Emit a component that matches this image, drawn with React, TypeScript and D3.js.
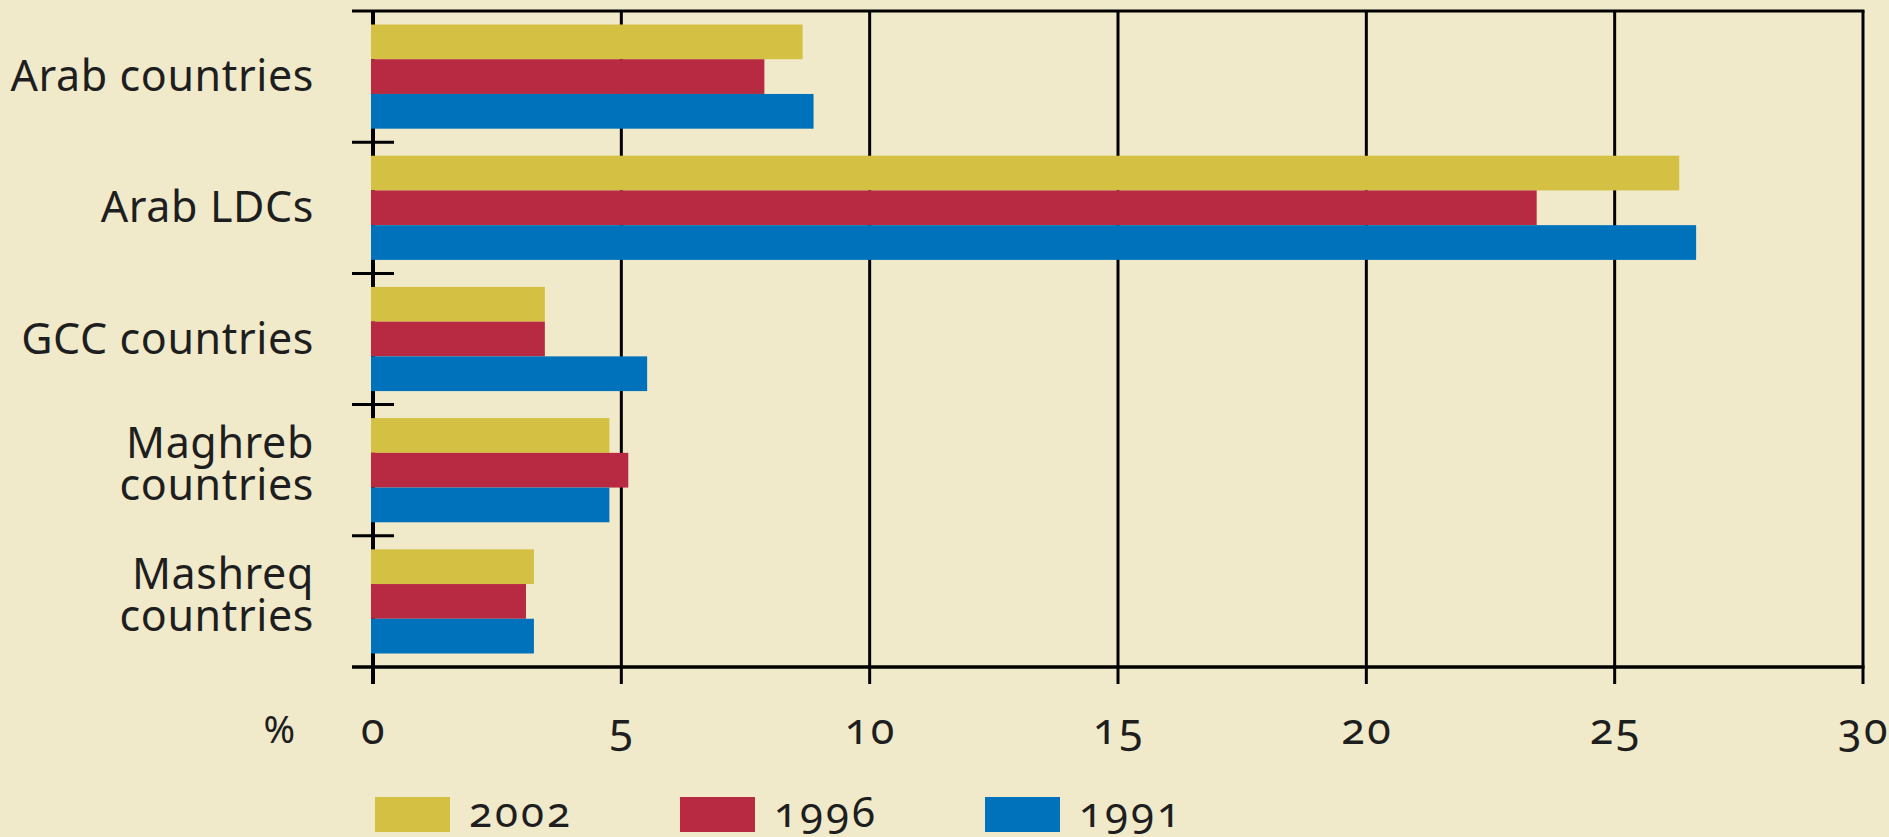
import React, { useEffect, useRef } from "react";
import * as d3 from "d3";

// categories top to bottom, label lines
const categories = ["Arab countries", "Arab LDCs", "GCC countries", "Maghreb countries", "Mashreq countries"];
const labelLines = [["Arab countries"], ["Arab LDCs"], ["GCC countries"], ["Maghreb", "countries"], ["Mashreq", "countries"]];

const series = ["2002", "1996", "1991"];
const colors = ["#d4c042", "#b72a41", "#0072bc"];

// % values
const values2002 = [8.65, 26.3, 3.46, 4.76, 3.24];
const values1996 = [7.88, 23.43, 3.46, 5.14, 3.08];
const values1991 = [8.87, 26.64, 5.52, 4.76, 3.24];

const xTicks = [0, 5, 10, 15, 20, 25, 30];

const W = 1889;
const H = 837;
const FONT = "'Noto Sans', 'Open Sans', sans-serif";

const App: React.FC = () => {
  const svgRef = useRef<SVGSVGElement | null>(null);

  useEffect(() => {
    if (!svgRef.current) return;
    const svg = d3.select(svgRef.current);
    svg.selectAll("*").remove();

    const allValues = [values2002, values1996, values1991];

    const x = d3.scaleLinear().domain([0, 30]).range([373, 1863]);
    const y = d3.scaleBand<string>().domain(categories).range([11, 667]).padding(0);
    const bw = y.bandwidth();
    const inner = d3.scaleBand<string>().domain(series).range([bw * 0.103, bw * 0.897]);

    svg.append("rect").attr("width", W).attr("height", H).attr("fill", "#f0eacb");

    // vertical grid lines
    svg
      .append("g")
      .selectAll("line")
      .data(xTicks)
      .enter()
      .append("line")
      .attr("x1", (d) => x(d))
      .attr("x2", (d) => x(d))
      .attr("y1", 11)
      .attr("y2", 684)
      .attr("stroke", "#000")
      .attr("stroke-width", (d) => (d === 0 ? 4 : 3));

    // top and bottom frame lines
    svg
      .append("line")
      .attr("x1", 352)
      .attr("x2", x(30) + 1.5)
      .attr("y1", 11)
      .attr("y2", 11)
      .attr("stroke", "#000")
      .attr("stroke-width", 3);
    svg
      .append("line")
      .attr("x1", 352)
      .attr("x2", x(30) + 1.5)
      .attr("y1", 667)
      .attr("y2", 667)
      .attr("stroke", "#000")
      .attr("stroke-width", 3.5);

    // category separators
    svg
      .append("g")
      .selectAll("line")
      .data(categories.slice(1))
      .enter()
      .append("line")
      .attr("x1", 352)
      .attr("x2", 394)
      .attr("y1", (d) => y(d)!)
      .attr("y2", (d) => y(d)!)
      .attr("stroke", "#000")
      .attr("stroke-width", 3);

    // bars
    series.forEach((s, si) => {
      svg
        .append("g")
        .selectAll("rect")
        .data(categories)
        .enter()
        .append("rect")
        .attr("x", x(0) - 2)
        .attr("y", (d) => y(d)! + inner(s)!)
        .attr("width", (_d, i) => x(allValues[si][i]) - x(0) + 2)
        .attr("height", inner.bandwidth())
        .attr("fill", colors[si]);
    });

    // category labels
    categories.forEach((c, i) => {
      const lines = labelLines[i];
      const cy = y(c)! + bw / 2;
      const text = svg
        .append("text")
        .attr("text-anchor", "end")
        .attr("font-family", FONT)
        .attr("font-size", 43)
        .attr("letter-spacing", 0.6)
        .attr("fill", "#1e1e1e");
      lines.forEach((ln, li) => {
        const base = lines.length === 1 ? cy + 14.5 : cy - 12 + li * 42;
        text.append("tspan").attr("x", 314).attr("y", base).text(ln);
      });
    });

    // x tick labels
    svg
      .append("g")
      .selectAll("text")
      .data(xTicks)
      .enter()
      .append("text")
      .attr("x", (d) => x(d) + 1)
      .attr("y", 744)
      .attr("text-anchor", "middle")
      .attr("font-family", FONT)
      .attr("font-size", 43)
      .attr("letter-spacing", 2.5)
      .style("font-variant-numeric", "oldstyle-nums")
      .attr("fill", "#1e1e1e")
      .text((d) => d);

    svg
      .append("text")
      .attr("x", 295)
      .attr("y", 743)
      .attr("text-anchor", "end")
      .attr("font-family", FONT)
      .attr("font-size", 38)
      .attr("fill", "#1e1e1e")
      .text("%");

    // legend
    const legend = svg
      .append("g")
      .selectAll("g")
      .data(series)
      .enter()
      .append("g")
      .attr("transform", (_d, i) => `translate(${375 + i * 305},797)`);
    legend
      .append("rect")
      .attr("width", 75)
      .attr("height", 35)
      .attr("fill", (_d, i) => colors[i]);
    legend
      .append("text")
      .attr("x", 94)
      .attr("y", 30)
      .attr("font-family", FONT)
      .attr("font-size", 42)
      .attr("letter-spacing", 3)
      .style("font-variant-numeric", "oldstyle-nums")
      .attr("fill", "#1e1e1e")
      .text((d) => d);
  }, []);

  return (
    <div style={{ position: "absolute", left: 0, top: 0 }}>
      <svg ref={svgRef} width={W} height={H} style={{ display: "block" }}></svg>
    </div>
  );
};

export default App;
